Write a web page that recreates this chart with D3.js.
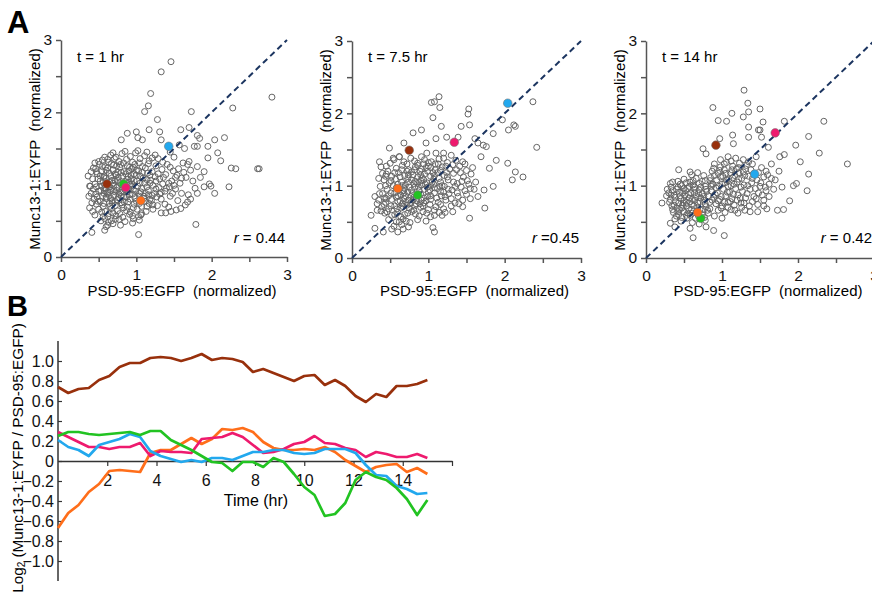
<!DOCTYPE html>
<html><head><meta charset="utf-8">
<script src="https://cdn.jsdelivr.net/npm/d3@7"></script>
<style>
body{margin:0;background:#fff}
svg{display:block}
text{font-family:"Liberation Sans",Arial,Helvetica,sans-serif}
</style>
</head><body>
<svg id="c" width="872" height="596"></svg>
<script>
// ---------- DATA ----------
const panelTitles = ["t = 1 hr", "t = 7.5 hr", "t = 14 hr"];
const panelR = [" = 0.44", " =0.45", " = 0.42"];
const scatterTicks = [0, 0.5, 1, 1.5, 2, 2.5, 3];

// spine identities (order used in highlight arrays and line series)
const spineNames = ["brown", "pink", "orange", "cyan", "green"];

const scatter1 = [
[0.66,1.41],[0.73,1.38],[0.81,1.43],[0.92,1.39],[0.99,1.44],[1.11,1.40],[1.21,1.37],
[0.55,1.34],[0.63,1.31],[0.71,1.36],[0.77,1.32],[0.87,1.35],[0.95,1.31],[1.05,1.36],[1.17,1.33],[1.29,1.36],
[0.51,1.28],[0.59,1.25],[0.67,1.29],[0.74,1.26],[0.83,1.30],[0.91,1.24],[0.98,1.28],[1.08,1.25],[1.16,1.29],[1.26,1.26],[1.41,1.28],
[0.46,1.22],[0.54,1.19],[0.62,1.23],[0.69,1.20],[0.78,1.24],[0.84,1.18],[0.94,1.22],[1.03,1.19],[1.12,1.23],[1.21,1.18],[1.34,1.21],[1.49,1.19],[1.56,1.22],
[0.48,1.15],[0.57,1.12],[0.64,1.16],[0.73,1.13],[0.80,1.17],[0.89,1.11],[0.97,1.15],[1.05,1.12],[1.15,1.16],[1.25,1.11],[1.39,1.14],[1.54,1.13],[1.63,1.17],
[0.42,1.08],[0.52,1.05],[0.60,1.09],[0.68,1.06],[0.76,1.10],[0.85,1.04],[0.93,1.08],[1.01,1.05],[1.09,1.09],[1.19,1.06],[1.31,1.08],[1.47,1.05],[1.60,1.09],
[0.45,1.01],[0.54,0.98],[0.61,1.02],[0.70,0.99],[0.78,1.03],[0.86,0.97],[0.94,1.01],[1.02,0.98],[1.11,1.02],[1.22,0.99],[1.35,1.01],[1.44,0.97],[1.58,1.02],
[0.43,0.94],[0.50,0.91],[0.58,0.95],[0.66,0.92],[0.74,0.96],[0.82,0.90],[0.90,0.94],[0.99,0.91],[1.07,0.95],[1.16,0.92],[1.26,0.94],[1.38,0.91],[1.52,0.94],
[0.46,0.87],[0.55,0.84],[0.62,0.88],[0.70,0.85],[0.79,0.89],[0.87,0.83],[0.95,0.87],[1.04,0.84],[1.12,0.88],[1.21,0.85],[1.31,0.87],[1.45,0.84],[1.69,0.86],
[0.44,0.80],[0.52,0.77],[0.60,0.81],[0.68,0.78],[0.76,0.82],[0.84,0.76],[0.92,0.80],[1.00,0.77],[1.10,0.81],[1.20,0.78],[1.33,0.80],
[0.47,0.73],[0.56,0.70],[0.64,0.74],[0.72,0.71],[0.80,0.75],[0.88,0.69],[0.97,0.73],[1.07,0.70],[1.17,0.74],[1.28,0.71],
[0.50,0.66],[0.59,0.63],[0.67,0.67],[0.75,0.64],[0.83,0.68],[0.92,0.62],[1.01,0.66],[1.13,0.63],
[0.45,0.58],[0.56,0.56],[0.64,0.60],[0.73,0.57],[0.82,0.55],[0.91,0.59],[1.03,0.56],
[0.53,0.50],[0.63,0.48],[0.72,0.52],[0.85,0.49],[0.96,0.53],
[0.60,0.42],[0.69,0.46],[0.79,0.44],
[0.58,1.00],[0.65,0.97],[0.72,1.05],[0.80,1.00],[0.88,1.07],[0.62,0.90],[0.70,0.93],[0.77,0.87],[0.85,0.93],[0.93,0.98],
[0.57,1.10],[0.64,1.04],[0.72,1.15],[0.82,1.12],[0.90,1.19],[1.00,1.13],[0.60,0.83],[0.68,0.75],[0.75,0.79],[0.83,0.83],
[0.91,0.86],[0.98,0.82],[1.06,0.90],[1.14,0.97],[0.53,0.92],[0.49,1.08],[0.55,1.25],[0.62,1.35],[0.40,0.88],[0.38,0.98],
[1.18,1.02],[1.26,1.05],[1.30,0.96],[1.24,0.88],
[0.50,1.32],[0.58,1.38],[0.69,1.44],[0.85,1.46],[1.02,1.47],[1.14,1.45],[1.25,1.41],[1.35,1.31],[1.45,1.24],[1.52,1.10],
[0.47,1.18],[0.52,1.12],[0.60,1.20],[0.66,1.12],[0.75,1.17],[0.86,1.15],[0.93,1.13],[1.00,1.20],[1.08,1.17],[1.18,1.13],
[1.29,1.15],[1.36,1.10],[1.43,1.02],[1.50,0.99],[1.40,0.95],[1.33,0.89],[1.27,0.83],[1.18,0.80],[1.14,0.70],[1.22,0.66],
[0.47,0.97],[0.56,1.03],[0.63,0.99],[0.69,1.02],[0.75,1.06],[0.84,1.01],[0.90,1.03],[0.97,1.06],[1.05,1.02],[1.14,1.07],
[0.48,0.83],[0.57,0.88],[0.64,0.85],[0.72,0.90],[0.80,0.84],[0.88,0.90],[0.96,0.93],[1.04,0.88],[1.10,0.84],[1.16,0.86],
[0.49,0.77],[0.57,0.74],[0.65,0.70],[0.72,0.77],[0.81,0.72],[0.89,0.76],[0.96,0.68],[1.04,0.74],[1.12,0.77],[1.22,0.72],
[0.54,0.62],[0.62,0.56],[0.69,0.61],[0.78,0.60],[0.87,0.64],[0.95,0.57],[1.07,0.60],[0.58,0.53],[0.67,0.50],[0.77,0.52],
[0.41,0.75],[0.38,0.68],[0.42,0.63],[0.37,0.84],[0.36,1.12],[0.40,1.18],[0.45,1.30],[1.38,0.73],[1.43,0.69],[1.48,0.88],
[0.70,1.27],[0.79,1.28],[0.88,1.26],[0.96,1.24],[1.04,1.30],[0.58,0.92],[0.66,0.81],[0.74,0.92],[0.83,0.96],[0.91,1.00],
[1.62,1.30],[1.68,1.28],[1.72,1.20],[1.66,1.10],[1.75,1.05],[1.85,1.10],[1.78,0.95],[1.60,0.88],[1.55,0.78],[1.65,0.72],
[1.72,0.80],[1.90,1.18],[1.50,1.38],[1.45,1.45],
[1.46,2.70],[1.33,2.56],[2.80,2.21],[1.19,2.26],[1.16,2.09],[1.11,2.01],[1.28,1.90],[1.73,2.01],[2.28,2.06],[1.17,1.76],
[1.00,1.73],[1.31,1.73],[1.59,1.76],[1.70,1.79],[1.81,1.68],[1.84,1.64],[2.04,1.62],[2.17,1.65],[1.02,1.65],[0.88,1.71],
[0.80,1.62],[1.08,1.62],[1.33,1.62],[1.57,1.55],[1.64,1.50],[1.77,1.53],[1.81,1.53],[1.95,1.53],[2.08,1.44],[1.95,1.37],
[2.12,1.33],[1.70,1.32],[1.81,1.25],[2.26,1.23],[2.32,1.22],[2.61,1.22],[2.63,1.22],[2.23,0.97],[1.97,1.01],[1.99,0.98],
[2.04,0.88],[1.90,0.97],[1.81,0.88],[1.68,0.76],[1.59,0.67],[1.53,0.65],[1.46,0.63],[1.33,0.61],[1.39,0.61],[1.79,0.45],
[1.03,0.31],[0.41,0.34],[0.43,1.23],[0.39,0.98],[0.58,0.37],[0.62,0.44],[1.04,0.51],[1.06,0.58],[0.95,0.47]
];

const scatter2 = [
[0.55,1.36],[0.68,1.33],[0.77,1.38],[0.86,1.31],[0.95,1.36],[1.04,1.33],[1.14,1.37],[1.25,1.32],[1.36,1.35],
[0.45,1.27],[0.58,1.24],[0.66,1.28],[0.74,1.22],[0.83,1.26],[0.91,1.23],[1.00,1.27],[1.09,1.22],[1.18,1.26],[1.28,1.23],[1.41,1.27],[1.50,1.21],
[0.40,1.17],[0.52,1.13],[0.61,1.18],[0.69,1.14],[0.78,1.19],[0.86,1.12],[0.95,1.16],[1.03,1.13],[1.12,1.18],[1.21,1.14],[1.33,1.17],[1.46,1.12],[1.56,1.16],
[0.42,1.08],[0.49,1.04],[0.57,1.09],[0.65,1.05],[0.73,1.10],[0.81,1.03],[0.90,1.07],[0.98,1.04],[1.07,1.09],[1.16,1.05],[1.26,1.08],[1.38,1.03],[1.51,1.07],
[0.37,0.99],[0.46,0.95],[0.54,1.00],[0.62,0.96],[0.70,1.01],[0.78,0.94],[0.87,0.98],[0.95,0.95],[1.03,1.00],[1.12,0.96],[1.21,0.99],[1.31,0.94],[1.43,0.98],[1.55,0.96],
[0.40,0.89],[0.48,0.86],[0.56,0.90],[0.64,0.87],[0.73,0.91],[0.81,0.84],[0.90,0.88],[0.99,0.85],[1.08,0.90],[1.17,0.86],[1.27,0.89],[1.39,0.85],[1.50,0.88],
[0.35,0.80],[0.44,0.77],[0.52,0.81],[0.60,0.78],[0.68,0.82],[0.76,0.75],[0.85,0.79],[0.94,0.76],[1.03,0.81],[1.13,0.77],[1.23,0.80],[1.35,0.76],
[0.39,0.71],[0.48,0.68],[0.56,0.72],[0.64,0.69],[0.72,0.73],[0.81,0.66],[0.90,0.70],[1.00,0.67],[1.10,0.71],[1.20,0.68],[1.30,0.72],
[0.43,0.62],[0.52,0.59],[0.60,0.63],[0.69,0.60],[0.78,0.64],[0.88,0.58],[0.98,0.62],[1.08,0.59],[1.22,0.63],
[0.48,0.53],[0.58,0.50],[0.67,0.54],[0.76,0.49],[0.86,0.53],[0.97,0.51],
[0.55,0.44],[0.65,0.46],[0.74,0.43],
[0.60,1.02],[0.67,0.93],[0.75,0.98],[0.83,1.06],[0.92,1.11],[1.00,0.91],[1.08,0.97],[0.70,0.86],[0.79,0.89],[0.88,0.93],
[0.96,1.02],[1.05,1.05],[1.14,1.10],[0.63,1.12],[0.72,1.20],[0.80,1.15],[0.89,1.20],[0.97,1.25],[1.06,1.18],[0.58,0.84],
[0.66,0.75],[0.74,0.80],[0.82,0.72],[0.91,0.80],[1.18,1.00],[1.25,1.12],[1.33,1.05],[1.42,1.18],[1.48,1.30],[1.38,0.90],
[1.45,0.80],[1.55,0.82],[1.60,0.95],[1.62,1.05],[1.58,1.25],[1.30,1.42],[1.20,1.45],[1.10,1.45],[0.98,1.45],
[0.50,1.31],[0.62,1.40],[0.72,1.30],[0.82,1.34],[0.91,1.40],[1.00,1.32],[1.09,1.30],[1.20,1.38],[1.32,1.29],[1.45,1.33],
[0.47,1.20],[0.56,1.18],[0.65,1.22],[0.74,1.15],[0.82,1.22],[0.90,1.15],[0.99,1.20],[1.08,1.14],[1.16,1.21],[1.24,1.18],
[1.37,1.22],[1.44,1.06],[1.53,1.02],[1.35,0.99],[1.26,0.95],[1.16,0.92],[1.22,0.85],[1.30,0.82],[1.40,0.75],[1.48,0.93],
[0.44,1.00],[0.51,1.07],[0.58,0.97],[0.66,1.00],[0.74,1.05],[0.82,0.98],[0.91,1.01],[0.99,0.98],[1.07,1.02],[1.15,0.99],
[0.43,0.83],[0.51,0.90],[0.60,0.86],[0.68,0.90],[0.77,0.85],[0.86,0.88],[0.94,0.83],[1.03,0.86],[1.11,0.83],[1.20,0.91],
[0.42,0.74],[0.51,0.72],[0.59,0.68],[0.67,0.71],[0.75,0.69],[0.84,0.75],[0.93,0.72],[1.02,0.74],[1.08,0.66],[1.16,0.74],
[0.46,0.64],[0.56,0.60],[0.64,0.57],[0.73,0.62],[0.83,0.61],[0.93,0.64],[1.03,0.57],[1.14,0.63],[0.62,0.50],[0.71,0.51],
[0.36,0.89],[0.33,0.75],[0.38,0.65],[0.35,1.10],[0.44,1.13],[0.86,1.28],[0.94,1.30],[1.03,1.25],[1.13,1.30],[1.23,1.27],
[0.69,0.96],[0.78,1.08],[0.86,1.03],[0.94,1.08],[1.02,0.94],[0.63,0.79],[0.71,0.77],[0.80,0.80],[0.89,0.75],[0.97,0.79],
[1.14,2.23],[1.08,2.16],[1.04,2.15],[1.15,2.08],[1.53,2.06],[1.52,1.99],[1.06,1.94],[2.37,2.16],[1.97,1.91],[2.05,1.77],
[2.12,1.84],[2.14,1.82],[2.42,1.53],[1.85,1.72],[1.17,1.82],[1.43,1.82],[1.54,1.84],[1.39,1.67],[1.24,1.67],[0.91,1.77],
[0.80,1.73],[0.68,1.59],[0.49,1.52],[0.97,1.59],[1.10,1.65],[1.61,1.65],[1.65,1.59],[1.72,1.56],[1.76,1.54],[1.69,1.40],
[1.89,1.35],[1.80,1.24],[2.04,1.31],[2.14,1.19],[2.24,1.12],[2.10,1.08],[1.85,0.99],[1.73,0.94],[1.65,0.85],[1.74,0.69],
[1.45,0.71],[1.32,0.64],[1.18,0.59],[1.54,0.55],[1.06,0.42],[1.08,0.36],[0.67,0.40],[0.60,0.36],[0.52,0.40],[0.41,0.36],
[0.30,0.41],[0.25,0.59],[0.33,0.66],[0.36,1.33],[0.38,1.26],[0.45,1.16],[0.54,1.38],[0.62,1.40],[0.30,0.85],[0.45,0.82]
];

const scatter3 = [
[0.33,0.98],[0.40,0.95],[0.47,1.00],[0.55,0.96],[0.62,1.01],[0.70,0.94],[0.78,0.99],
[0.30,0.90],[0.37,0.87],[0.44,0.91],[0.51,0.86],[0.59,0.90],[0.66,0.85],[0.74,0.89],[0.82,0.86],
[0.32,0.81],[0.39,0.78],[0.46,0.82],[0.53,0.77],[0.61,0.81],[0.68,0.76],[0.76,0.80],[0.84,0.77],
[0.34,0.72],[0.41,0.69],[0.48,0.73],[0.56,0.68],[0.63,0.72],[0.71,0.67],[0.79,0.71],
[0.36,0.63],[0.43,0.60],[0.50,0.64],[0.58,0.59],[0.65,0.55],[0.74,0.60],[0.82,0.62],
[0.38,0.54],[0.46,0.51],[0.54,0.55],[0.61,0.49],[0.70,0.47],[0.78,0.52],
[0.42,1.06],[0.50,1.09],[0.58,1.05],[0.66,1.10],[0.74,1.06],[0.60,1.15],[0.68,1.18],[0.76,1.14],
[0.45,0.86],[0.52,0.93],[0.57,0.83],[0.64,0.90],[0.72,0.83],[0.49,0.76],[0.60,0.74],[0.67,0.64],[0.55,0.62],[0.44,0.67],
[0.38,0.84],[0.80,0.92],[0.86,1.02],[0.35,1.05],[0.28,0.95],[0.27,0.86],
[0.90,1.30],[0.98,1.26],[1.06,1.32],[1.14,1.27],[1.23,1.31],[1.32,1.28],
[0.87,1.20],[0.95,1.17],[1.03,1.22],[1.11,1.18],[1.19,1.23],[1.28,1.19],[1.38,1.22],[1.48,1.18],
[0.85,1.11],[0.93,1.08],[1.01,1.13],[1.09,1.09],[1.17,1.14],[1.26,1.10],[1.35,1.13],[1.46,1.08],[1.55,1.12],
[0.88,1.02],[0.96,0.99],[1.04,1.04],[1.12,1.00],[1.20,1.05],[1.29,1.01],[1.39,1.04],[1.50,0.99],[1.62,1.02],
[0.86,0.93],[0.94,0.90],[1.02,0.95],[1.10,0.91],[1.18,0.96],[1.27,0.92],[1.37,0.95],[1.48,0.90],[1.58,0.93],
[0.89,0.84],[0.97,0.81],[1.05,0.86],[1.13,0.82],[1.21,0.87],[1.31,0.83],[1.42,0.85],[1.55,0.80],
[0.92,0.75],[1.00,0.72],[1.08,0.77],[1.16,0.73],[1.25,0.76],[1.36,0.72],[1.47,0.74],
[0.95,0.66],[1.04,0.63],[1.12,0.67],[1.21,0.62],[1.30,0.66],
[0.98,1.36],[1.08,1.40],[1.18,1.38],[1.28,1.36],[1.40,1.30],[1.45,1.40],[1.52,1.25],[1.60,1.15],[1.65,1.30],[1.70,1.08],
[1.68,0.95],[1.75,1.20],[1.62,0.85],[1.55,0.72],[0.90,0.58],[1.00,0.55],[0.84,0.68],
[0.35,0.93],[0.42,0.98],[0.50,0.96],[0.57,0.99],[0.64,0.95],[0.72,0.98],[0.79,0.95],[0.31,0.77],[0.37,0.73],[0.43,0.76],
[0.50,0.80],[0.58,0.78],[0.64,0.80],[0.71,0.78],[0.78,0.75],[0.35,0.67],[0.42,0.64],[0.47,0.69],[0.53,0.72],[0.60,0.67],
[0.68,0.70],[0.75,0.67],[0.81,0.66],[0.40,0.58],[0.47,0.56],[0.53,0.59],[0.61,0.62],[0.69,0.58],[0.77,0.56],[0.45,1.02],
[0.53,1.04],[0.62,1.07],[0.70,1.03],[0.78,1.07],[0.64,0.98],[0.56,0.88],[0.48,0.90],[0.69,0.89],[0.76,0.85],[0.33,0.87],
[0.89,1.24],[0.97,1.21],[1.05,1.17],[1.13,1.22],[1.22,1.18],[1.31,1.23],[1.42,1.17],[0.90,1.14],[0.98,1.12],[1.06,1.08],
[1.14,1.11],[1.22,1.09],[1.30,1.14],[1.40,1.10],[0.92,0.97],[1.00,1.02],[1.08,0.99],[1.16,1.02],[1.25,0.98],[1.34,1.00],
[1.44,0.96],[0.91,0.88],[0.99,0.85],[1.07,0.91],[1.15,0.88],[1.24,0.83],[1.33,0.89],[1.45,0.82],[0.95,0.79],[1.03,0.77],
[1.11,0.78],[1.20,0.80],[1.29,0.76],[1.40,0.78],[0.99,0.69],[1.08,0.70],[1.17,0.66],[1.26,0.70],[1.03,1.30],[1.12,1.34],
[1.22,1.25],[1.35,1.33],[0.86,0.99],[0.84,1.07],[0.87,0.80],[1.51,1.04],[1.57,0.98],[1.53,0.87],[1.58,1.20],[1.65,1.10],
[1.29,2.32],[1.34,2.14],[0.88,2.08],[1.50,2.06],[1.13,2.00],[1.28,1.95],[1.35,2.02],[0.95,1.90],[1.06,1.89],[1.54,1.88],
[1.82,1.89],[2.34,1.89],[1.35,1.81],[1.48,1.77],[1.50,1.77],[1.14,1.70],[2.14,1.68],[1.97,1.56],[1.52,1.67],[1.61,1.53],
[1.35,1.67],[1.15,1.58],[0.97,1.65],[0.75,1.51],[0.79,1.44],[2.28,1.45],[2.65,1.30],[2.14,1.16],[2.12,0.93],[1.94,1.00],
[1.79,0.98],[1.73,0.66],[1.81,0.67],[1.89,0.79],[1.98,1.03],[2.03,1.33],[1.76,1.40],[1.82,1.43],[1.47,0.64],[1.59,0.68],
[1.37,0.64],[1.03,0.31],[0.89,0.38],[0.79,0.43],[0.62,0.28],[0.21,0.76],[0.43,1.22],[0.58,1.19],[0.32,1.03],[0.38,0.43],
[0.32,0.48],[0.58,0.41]
];

// highlighted spines per panel, order = spineNames
const highlight1 = [[0.61,1.01],[0.86,0.96],[1.06,0.78],[1.43,1.53],[0.83,1.01]];
const highlight2 = [[0.75,1.49],[1.34,1.60],[0.60,0.96],[2.04,2.14],[0.86,0.87]];
const highlight3 = [[0.92,1.56],[1.70,1.73],[0.68,0.63],[1.43,1.16],[0.72,0.55]];

// panel B: time in minutes, log2 ratio per spine
const timeMin = [0,25,50,75,100,125,150,175,200,225,250,275,300,325,350,375,400,425,450,475,500,525,550,575,600,625,650,675,700,725,750,775,800,825,850,875,900];
const brownSeries  = [0.74,0.68,0.72,0.73,0.81,0.85,0.94,0.98,0.98,1.03,1.04,1.03,1.00,1.03,1.07,1.01,1.03,1.02,0.99,0.89,0.92,0.88,0.84,0.80,0.85,0.86,0.76,0.81,0.75,0.65,0.59,0.67,0.64,0.75,0.75,0.77,0.81];
const pinkSeries   = [0.29,0.24,0.19,0.14,0.14,0.12,0.14,0.14,0.18,0.05,0.10,0.09,0.09,0.08,0.22,0.23,0.24,0.28,0.24,0.16,0.08,0.09,0.12,0.17,0.19,0.25,0.18,0.17,0.13,0.11,0.04,0.09,0.07,0.04,0.04,0.07,0.03];
const orangeSeries = [-0.67,-0.52,-0.44,-0.31,-0.23,-0.10,-0.09,-0.10,-0.11,0.08,0.11,0.11,0.17,0.23,0.17,0.22,0.32,0.31,0.33,0.29,0.19,0.13,0.11,0.11,0.12,0.11,0.14,0.09,0.01,-0.05,-0.11,-0.06,-0.04,-0.03,-0.11,-0.07,-0.13];
const cyanSeries   = [0.21,0.14,0.11,0.05,0.16,0.19,0.22,0.27,0.24,0.10,0.05,0.02,-0.01,0.01,-0.01,0.03,0.03,0.01,0.05,0.09,0.09,0.11,0.11,0.08,0.07,0.08,0.12,0.12,0.12,0.08,-0.04,-0.14,-0.15,-0.25,-0.28,-0.33,-0.32];
const greenSeries  = [0.25,0.29,0.29,0.27,0.26,0.27,0.28,0.29,0.26,0.30,0.30,0.21,0.16,0.11,0.05,-0.01,-0.02,-0.10,-0.01,-0.01,-0.06,0.03,-0.01,-0.13,-0.26,-0.34,-0.55,-0.53,-0.42,-0.19,-0.11,-0.16,-0.19,-0.27,-0.38,-0.54,-0.39];
const timeTicks = [2,4,6,8,10,12,14,16];
const ratioTicks = [-1.0,-0.8,-0.6,-0.4,-0.2,0,0.2,0.4,0.6,0.8,1.0];

// ---------- STYLE ----------
const colors = {brown:"#98300c", pink:"#ee1a6e", orange:"#ff6e1a", cyan:"#22a8ee", green:"#22c322"};
const svg = d3.select("#c");
const FONT = '"Liberation Sans",Arial,Helvetica,sans-serif';

// panel letters
svg.append("text").attr("x",7).attr("y",33).attr("font-size",31).attr("font-weight","bold").text("A");
svg.append("text").attr("x",7).attr("y",316).attr("font-size",29).attr("font-weight","bold").text("B");

// ---------- PANEL A ----------
const panels = [
  {x0:61, x1:287, y0:257, y1:40, pts:scatter1, hl:highlight1},
  {x0:352, x1:581, y0:258, y1:41, pts:scatter2, hl:highlight2},
  {x0:646, x1:874, y0:258, y1:41, pts:scatter3, hl:highlight3}
];
const hlOrder = [4,1,0,2,3]; // draw order indices into spineNames

panels.forEach((p, k) => {
  const xs = d3.scaleLinear().domain([0,3]).range([p.x0, p.x1]);
  const ys = d3.scaleLinear().domain([0,3]).range([p.y0, p.y1]);
  const g = svg.append("g");
  const fmt = d => (d % 1 === 0 ? d3.format("d")(d) : "");

  const ax = g.append("g").attr("transform",`translate(0,${p.y0})`)
    .call(d3.axisBottom(xs).tickValues(scatterTicks).tickFormat(fmt).tickSize(5).tickSizeOuter(0));
  const ay = g.append("g").attr("transform",`translate(${p.x0},0)`)
    .call(d3.axisLeft(ys).tickValues(scatterTicks).tickFormat(fmt).tickSize(5).tickSizeOuter(0));
  [ax, ay].forEach(a => {
    a.selectAll("path,line").attr("stroke","#555").attr("stroke-width",1.5);
    a.selectAll("text").attr("fill","#111").attr("font-size",15.5).attr("font-family",FONT);
  });
  ax.selectAll("text").attr("dy","0.95em");
  ay.selectAll("text").attr("dx","-0.05em");

  // open circles
  g.append("g").selectAll("circle").data(p.pts).join("circle")
    .attr("cx", d => xs(d[0])).attr("cy", d => ys(d[1])).attr("r", 3)
    .attr("fill","none").attr("stroke","#666").attr("stroke-width",1);

  // diagonal
  g.append("line").attr("x1",xs(0)).attr("y1",ys(0)).attr("x2",xs(3)).attr("y2",ys(3))
    .attr("stroke","#1c3560").attr("stroke-width",2).attr("stroke-dasharray","6,4");

  // highlighted spines
  hlOrder.forEach(i => {
    const d = p.hl[i];
    g.append("circle").attr("cx",xs(d[0])).attr("cy",ys(d[1])).attr("r",4.3)
      .attr("fill",colors[spineNames[i]]).attr("stroke","#777").attr("stroke-width",0.6);
  });

  g.append("text").attr("x",p.x0+16).attr("y",62).attr("font-size",15).text(panelTitles[k]);
  const rt = g.append("text").attr("x",p.x1-2).attr("y",243).attr("font-size",15).attr("text-anchor","end");
  rt.append("tspan").attr("font-style","italic").text("r");
  rt.append("tspan").text(panelR[k]);

  g.append("text").attr("x",(p.x0+p.x1)/2+8).attr("y",296).attr("font-size",15)
    .attr("text-anchor","middle").style("white-space","pre")
    .text("PSD-95:EGFP  (normalized)");
  g.append("text").attr("transform",`translate(${p.x0-27},${(p.y0+p.y1)/2+0.5}) rotate(-90)`)
    .attr("font-size",15).attr("text-anchor","middle").attr("dominant-baseline","central")
    .style("white-space","pre").text("Munc13-1:EYFP  (normalized)");
});

// ---------- PANEL B ----------
const bx = d3.scaleLinear().domain([0,16]).range([58, 452]);
const by = d3.scaleLinear().domain([-1.2,1.2]).range([581, 341]);
const gb = svg.append("g");

// y axis
gb.append("line").attr("x1",bx(0)).attr("x2",bx(0)).attr("y1",by(1.2)).attr("y2",by(-1.2))
  .attr("stroke","#333").attr("stroke-width",1.5);
const byAxis = gb.append("g").attr("transform",`translate(${bx(0)},0)`)
  .call(d3.axisRight(by).tickValues(ratioTicks).tickSize(4).tickSizeOuter(0).tickFormat(d => d === 0 ? "0" : d3.format(".1f")(d)));
byAxis.select(".domain").remove();
byAxis.selectAll("line").attr("stroke","#333").attr("stroke-width",1.2);
byAxis.selectAll("text").attr("x",-4).attr("text-anchor","end").attr("font-size",16).attr("fill","#111").attr("font-family",FONT);

// x axis at 0
const bxAxis = gb.append("g").attr("transform",`translate(0,${by(0)})`)
  .call(d3.axisBottom(bx).tickValues(timeTicks).tickSize(5).tickSizeOuter(0).tickFormat(d => d === 16 ? "" : d));
bxAxis.select(".domain").attr("stroke","#333").attr("stroke-width",1.5);
bxAxis.selectAll("line").attr("stroke","#333").attr("stroke-width",1.2);
bxAxis.selectAll("text").attr("y",14).attr("font-size",16).attr("fill","#111").attr("font-family",FONT);

gb.append("text").attr("x",256).attr("y",506).attr("font-size",16).attr("text-anchor","middle").text("Time (hr)");

const yl = gb.append("text").attr("transform",`translate(17,458) rotate(-90)`)
  .attr("font-size",15.3).attr("text-anchor","middle").attr("dominant-baseline","central");
yl.append("tspan").text("Log");
yl.append("tspan").attr("font-size",10).attr("dy",4).text("2");
yl.append("tspan").attr("dy",-4).text(" (Munc13-1:EYFP / PSD-95:EGFP)");

// lines
const seriesList = [
  {name:"orange", v:orangeSeries},
  {name:"pink", v:pinkSeries},
  {name:"cyan", v:cyanSeries},
  {name:"green", v:greenSeries},
  {name:"brown", v:brownSeries}
];
const line = d3.line().x((d,i) => bx(timeMin[i]/60)).y(d => by(d));
seriesList.forEach(s => {
  gb.append("path").datum(s.v).attr("d", line).attr("fill","none")
    .attr("stroke", colors[s.name]).attr("stroke-width",2.7).attr("stroke-linejoin","round");
});
</script>
</body></html>
